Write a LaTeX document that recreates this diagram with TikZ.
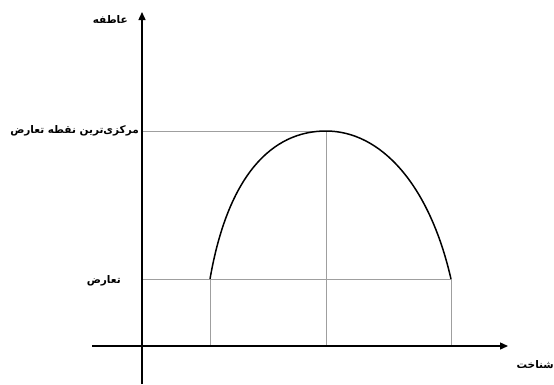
\documentclass[tikz,border=0pt]{standalone}
\usepackage{fontspec}
\newfontfamily\arabicfont[Script=Arabic]{DejaVu Sans}
\TeXXeTstate=1
\usetikzlibrary{arrows.meta}
\begin{document}
\begin{tikzpicture}[x=1pt,y=-1pt,
  axis/.style={line width=1.4pt,-{Triangle[length=8pt,width=7pt]}},
  guide/.style={draw=gray!75,line width=0.7pt},
  curve/.style={line width=1.5pt},
  lbl/.style={font=\arabicfont\bfseries\fontsize{10.5}{12}\selectfont,inner sep=0pt}]
\useasboundingbox (0,0) rectangle (554,384);
% coordinates
\coordinate (yb) at (142,384);
\coordinate (yt) at (142,12);
\coordinate (xl) at (92,346);
\coordinate (xr) at (508,346);
\coordinate (peak) at (326,131);
\coordinate (ya) at (142,131);
\coordinate (pb) at (326,346);
\coordinate (lc) at (210,279);
\coordinate (rc) at (451,279);
\coordinate (yc) at (142,279);
\coordinate (lb) at (210,346);
\coordinate (rb) at (451,346);
% guides
\draw[guide] (ya) -- (peak) -- (pb);
\draw[guide] (yc) -- (rc);
\draw[guide] (lc) -- (lb);
\draw[guide] (rc) -- (rb);
% axes
\draw[axis] (yb) -- (yt);
\draw[axis] (xl) -- (xr);
% curve
\draw[curve] (lc) .. controls (228,175) and (272,131) .. (peak)
             .. controls (380,131) and (429,183) .. (rc);
% labels
\node[lbl,anchor=east] (l1) at (128,20) {\beginR عاطفه\endR};
\node[lbl,anchor=east] (l2) at (139,131) {\beginR مرکزی‌ترین نقطه تعارض\endR};
\node[lbl,anchor=east] (l3) at (121,281) {\beginR تعارض\endR};
\node[lbl,anchor=east] (l4) at (554,365) {\beginR شناخت\endR};
\end{tikzpicture}
\end{document}
